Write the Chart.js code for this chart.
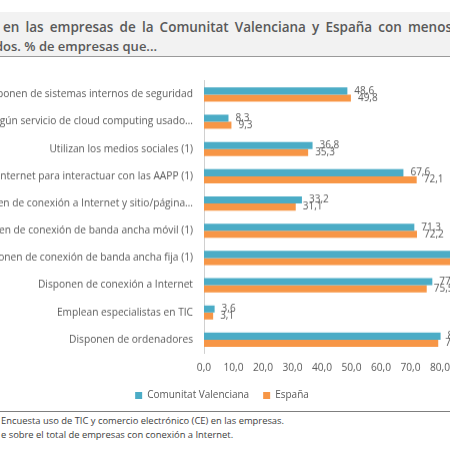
<!DOCTYPE html>
<html>
<head>
<meta charset="utf-8">
<script src="https://cdn.jsdelivr.net/npm/chart.js@4.4.0/dist/chart.umd.min.js"></script>
<style>
  html, body { margin: 0; padding: 0; }
  body { width: 450px; height: 450px; overflow: hidden; position: relative; background: #fff; font-family: "Open Sans", sans-serif; }
  #titlebox { position: absolute; left: 0; top: 12px; width: 450px; height: 44px; background: #f2f2f2; border-bottom: 1px solid #9a9a9a; }
  .tline { position: absolute; font-size: 13px; font-weight: 600; color: #595959; white-space: nowrap; line-height: 18px; }
  #t1 { left: 3px; top: 6px; width: 449px; display: flex; justify-content: space-between; font-size: 13.5px; }
  #t2 { left: -5px; top: 25px; }
  #wrap { position: absolute; left: -55.5px; top: 60px; width: 583.5px; height: 349.5px; }
  #rule { position: absolute; left: 0; top: 411px; width: 450px; height: 1px; background: #7f7f7f; }
  .note { position: absolute; left: 1px; font-size: 9.4px; color: #404040; white-space: nowrap; line-height: 13px; }
</style>
</head>
<body>
<div id="titlebox">
  <div class="tline" id="t1"><span>en</span><span>las</span><span>empresas</span><span>de</span><span>la</span><span>Comunitat</span><span>Valenciana</span><span>y</span><span>España</span><span>con</span><span>menos</span></div>
  <div class="tline" id="t2">dos. % de empresas que...</div>
</div>
<div id="wrap"><canvas id="chart"></canvas></div>
<div id="rule"></div>
<div class="note" style="top:414px">Encuesta uso de TIC y comercio electrónico (CE) en las empresas.</div>
<div class="note" style="top:428px">e sobre el total de empresas con conexión a Internet.</div>
<script>
var categories = [
  "Disponen de sistemas internos de seguridad",
  "Compran algún servicio de cloud computing usado…",
  "Utilizan los medios sociales (1)",
  "Usan Internet para interactuar con las AAPP (1)",
  "Disponen de conexión a Internet y sitio/página…",
  "Disponen de conexión de banda ancha móvil (1)",
  "Disponen de conexión de banda ancha fija (1)",
  "Disponen de conexión a Internet",
  "Emplean especialistas en TIC",
  "Disponen de ordenadores"
];
var comunitatValenciana = [48.6, 8.3, 36.8, 67.6, 33.2, 71.3, 86.4, 77.4, 3.6, 80.2];
var espana = [49.8, 9.3, 35.3, 72.1, 31.1, 72.2, 87.6, 75.5, 3.1, 79.4];
var seriesNames = ["Comunitat Valenciana", "España"];

function fmt(v) {
  return v.toFixed(1).replace('.', ',');
}

// etiquetas de valor al final de cada barra
var valueLabels = {
  id: 'valueLabels',
  afterDatasetsDraw: function (chart) {
    var ctx = chart.ctx;
    ctx.save();
    ctx.font = '10px "Open Sans"';
    ctx.fillStyle = '#595959';
    ctx.textBaseline = 'middle';
    ctx.textAlign = 'left';
    chart.data.datasets.forEach(function (ds, i) {
      chart.getDatasetMeta(i).data.forEach(function (bar, j) {
        ctx.fillText(fmt(ds.data[j]), bar.x + 7, bar.y);
      });
    });
    ctx.restore();
  }
};

var ctx = document.getElementById('chart').getContext('2d');
new Chart(ctx, {
  type: 'bar',
  data: {
    labels: categories,
    datasets: [
      {
        label: seriesNames[0],
        data: comunitatValenciana,
        backgroundColor: "#4bacc6",
        categoryPercentage: 0.52,
        barPercentage: 1
      },
      {
        label: seriesNames[1],
        data: espana,
        backgroundColor: "#f79646",
        categoryPercentage: 0.52,
        barPercentage: 1
      }
    ]
  },
  plugins: [valueLabels],
  options: {
    indexAxis: 'y',
    responsive: true,
    maintainAspectRatio: false,
    animation: false,
    devicePixelRatio: 1,
    layout: { padding: { top: 20.8, right: 29.5, bottom: 0, left: 0 } },
    plugins: {
      legend: {
        position: 'bottom',
        labels: {
          boxWidth: 7,
          boxHeight: 7,
          padding: 14,
          color: '#595959',
          font: { family: 'Open Sans', size: 10 }
        }
      },
      tooltip: { enabled: false }
    },
    scales: {
      x: {
        min: 0,
        max: 100,
        grid: { display: false, drawTicks: false },
        border: { display: false },
        ticks: {
          stepSize: 10,
          padding: 8,
          maxRotation: 0,
          minRotation: 0,
          autoSkip: false,
          color: '#595959',
          font: { family: 'Open Sans', size: 10.2 },
          callback: function (v) { return fmt(v); }
        },
        afterFit: function (scale) { scale.height = 23; }
      },
      y: {
        grid: { display: false, drawTicks: false },
        border: { display: true, color: '#d0d0d0' },
        ticks: {
          padding: 11,
          color: '#595959',
          font: { family: 'Open Sans', size: 10.2 }
        },
        afterFit: function (scale) { scale.width = 259; }
      }
    }
  }
});
</script>
</body>
</html>
